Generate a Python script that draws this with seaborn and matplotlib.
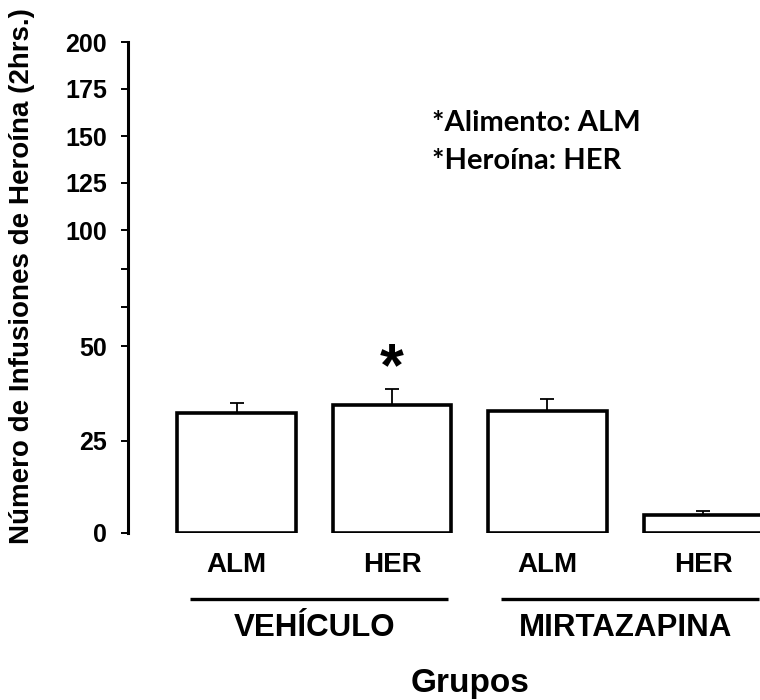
import numpy as np
import pandas as pd
import matplotlib
matplotlib.use("Agg")
import matplotlib.pyplot as plt
import seaborn as sns

# ---- data ----
groups = ["VEHÍCULO", "VEHÍCULO", "MIRTAZAPINA", "MIRTAZAPINA"]
conditions = ["ALM", "HER", "ALM", "HER"]
means = [32.4, 34.5, 32.9, 4.9]
errors = [2.7, 4.2, 3.2, 1.2]
group_names = ["VEHÍCULO", "MIRTAZAPINA"]
ytick_values = [0, 25, 50, 66.7, 83.3, 100, 125, 150, 175, 200]
ytick_labels = ["0", "25", "50", "", "", "100", "125", "150", "175", "200"]
# piecewise axis breakpoints (data value -> relative axis length)
scale_data = [0, 25, 50, 100, 200]
scale_len = [0, 92, 187, 303, 491]

sns.set_theme(style="white")
plt.rcParams["font.family"] = ["Liberation Sans", "DejaVu Sans"]
plt.rcParams["font.weight"] = "bold"

df = pd.DataFrame({
    "key": [f"{g} {c}" for g, c in zip(groups, conditions)],
    "group": groups,
    "cond": conditions,
    "mean": means,
})

fig = plt.figure(figsize=(7.6, 7.0), dpi=100)
ax = fig.add_axes([128 / 760, 167 / 700, 632 / 760, 491 / 700])

sns.barplot(data=df, x="key", y="mean", order=list(df["key"]), color="white",
            edgecolor="black", linewidth=2.6, width=0.762, errorbar=None,
            saturation=1, ax=ax, zorder=3)

xpos = np.arange(len(means))
ax.errorbar(xpos, means, yerr=[np.zeros(len(errors)), errors], fmt="none",
            ecolor="black", elinewidth=1.3, capsize=4.7, capthick=1.3, zorder=2)

fwd = lambda v: np.interp(v, scale_data, scale_len)
inv = lambda v: np.interp(v, scale_len, scale_data)
ax.set_yscale("function", functions=(fwd, inv))
ax.set_ylim(0, 200)
ax.set_xlim(-0.698, 3.367)
ax.set_yticks(ytick_values)
ax.set_yticklabels(ytick_labels)
ax.set_xticks(xpos)
ax.set_xticklabels(conditions)

for s in ["top", "right", "bottom"]:
    ax.spines[s].set_visible(False)
ax.spines["left"].set_color("black")
ax.spines["left"].set_linewidth(2.2)
ax.tick_params(axis="y", length=5, width=1.4, color="black", pad=10,
               labelsize=18, left=True)
ax.tick_params(axis="x", length=0, pad=14, labelsize=20)
for t in ax.get_xticklabels() + ax.get_yticklabels():
    t.set_fontweight("bold")
    t.set_color("black")
ax.set_xlabel("")
ax.set_ylabel("")

# significance asterisk
ax.text(1, 39.6, "*", ha="center", va="baseline", fontsize=44,
        fontweight="bold", color="black")

# group lines and labels
trans = ax.get_xaxis_transform()
for i, g in enumerate(group_names):
    c = 2 * i + 0.5
    ax.plot([c - 0.80, c + 0.86], [-0.1344, -0.1344], color="black", lw=2.4,
            transform=trans, clip_on=False, solid_capstyle="butt")
    ax.text(c, -0.1935, g, transform=trans, ha="center", va="center",
            fontsize=22.5, fontweight="bold", color="black")

ax.text(1.5, -0.3055, "Grupos", transform=trans, ha="center", va="center",
        fontsize=24, fontweight="bold", color="black")

fig.text(22 / 760, 1 - 276 / 700, "Número de Infusiones de Heroína (2hrs.)",
         rotation=90, ha="center", va="center", fontsize=20,
         fontweight="bold", color="black")

fig.text(432 / 760, 1 - 131 / 700, "*Alimento: ALM", ha="left", va="baseline",
         fontsize=21, fontweight="bold", family=["Lato", "DejaVu Sans"], color="black")
fig.text(432 / 760, 1 - 169 / 700, "*Heroína: HER", ha="left", va="baseline",
         fontsize=21, fontweight="bold", family=["Lato", "DejaVu Sans"], color="black")

fig.savefig("out.png", dpi=100)
